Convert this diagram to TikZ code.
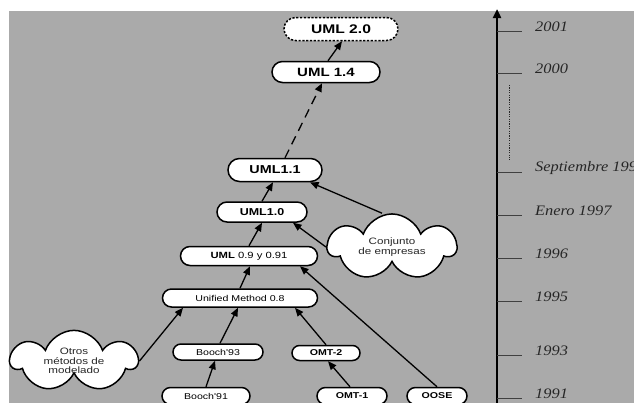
\documentclass[tikz,border=0pt]{standalone}
\usepackage{fontspec}
\setmainfont{Liberation Sans}
\newfontfamily\lbl{Liberation Sans}[FakeStretch=1.25]
\newfontfamily\yearfont{Liberation Serif}[FakeStretch=1.13]
\usetikzlibrary{shapes.misc,shapes.symbols,arrows.meta,calc}
\definecolor{panel}{RGB}{170,170,170}
\pgfdeclarelayer{bg}
\pgfdeclarelayer{edges}
\pgfsetlayers{bg,edges,main}

\begin{document}
\begin{tikzpicture}[x=1pt,y=-1pt,
  stage/.style={rounded rectangle, draw, line width=1.5pt, fill=white,
    inner sep=0pt, text=black},
  bigstage/.style={stage, font=\lbl\bfseries\fontsize{12}{14}\selectfont},
  smallstage/.style={stage, font=\lbl\fontsize{8.5}{10}\selectfont},
  note/.style={cloud, cloud puffs=7, cloud puff arc=140, draw, line width=1.5pt,
    fill=white, inner sep=0pt, align=center, text=black!85,
    font=\lbl\fontsize{9.3}{9.5}\selectfont},
  arr/.style={line width=1.3pt, -{Triangle[length=8.5pt,width=7pt]}},
  tickline/.style={line width=0.9pt, draw=black!75},
  year/.style={anchor=west, inner sep=0pt, text=black!85,
    font=\yearfont\itshape\fontsize{14.5}{16}\selectfont}]

\useasboundingbox (0,0) rectangle (634,402);
\clip (0,0) rectangle (634,402);
\begin{pgfonlayer}{bg}
  \fill[panel] (9,11) rectangle (640,410);
\end{pgfonlayer}

% version nodes
\node[bigstage, minimum width=114pt, minimum height=23pt,
      dash pattern=on 2.2pt off 1.6pt, font=\lbl\bfseries\fontsize{12.5}{14}\selectfont]
      (u20) at (341,29) {UML 2.0};
\node[bigstage, minimum width=108pt, minimum height=21pt] (u14) at (326,72) {UML 1.4};
\node[bigstage, minimum width=94pt, minimum height=23pt,
      font=\lbl\bfseries\fontsize{11.5}{13}\selectfont] (u11) at (275,170) {UML1.1};
\node[bigstage, minimum width=90pt, minimum height=20pt,
      font=\lbl\bfseries\fontsize{10}{12}\selectfont] (u10) at (262,212) {UML1.0};
\node[stage, minimum width=137pt, minimum height=19pt,
      font=\lbl\fontsize{9}{11}\selectfont] (u09) at (249,256) {\textbf{UML} 0.9 y 0.91};
\node[smallstage, minimum width=155pt, minimum height=18pt] (um08) at (240,298) {Unified Method 0.8};
\node[smallstage, minimum width=90pt, minimum height=16pt] (b93) at (218,352) {Booch'93};
\node[smallstage, minimum width=68pt, minimum height=15pt,
      font=\lbl\bfseries\fontsize{8.5}{10}\selectfont] (omt2) at (326,353) {OMT-2};
\node[smallstage, minimum width=88pt, minimum height=17pt] (b91) at (206,396) {Booch'91};
\node[smallstage, minimum width=70pt, minimum height=17pt,
      font=\lbl\bfseries\fontsize{8.5}{10}\selectfont] (omt1) at (352,396) {OMT-1};
\node[smallstage, minimum width=60pt, minimum height=17pt,
      font=\lbl\bfseries\fontsize{8.5}{10}\selectfont] (oose) at (437,396) {OOSE};

% clouds
\node[note, minimum width=126pt, minimum height=58pt, aspect=2.2] (otros) at (74,361)
  {Otros\\métodos de\\modelado};
\node[note, minimum width=128pt, minimum height=55pt, aspect=2.3] (conj) at (392,247)
  {Conjunto\\de empresas};

% connectors
\begin{pgfonlayer}{edges}
  \draw[arr] (otros.east) -- ($(um08.south)+(-57,0)$);
  \draw[arr] ($(b93.north)+(2,0)$) -- ($(um08.south)+(-2,0)$);
  \draw[arr] (omt2.north) -- ($(um08.south)+(55,0)$);
  \draw[arr] (b91.north) -- ($(b93.south)+(-3,0)$);
  \draw[arr] ($(omt1.north)+(-2,0)$) -- ($(omt2.south)+(2,0)$);
  \draw[arr] (oose.north) -- ($(u09.south)+(51,0)$);
  \draw[arr] (um08.north) -- ($(u09.south)+(1,0)$);
  \draw[arr] (u09.north) -- (u10.south);
  \draw[arr] (u10.north) -- ($(u11.south)+(-2,0)$);
  \draw[arr] (conj.west) -- ($(u10.south)+(31,0)$);
  \draw[arr] ($(conj.north)+(-10,0)$) -- ($(u11.south)+(35,0)$);
  \draw[arr, dash pattern=on 9pt off 6pt] ($(u11.north)+(10,0)$) -- ($(u14.south)+(-4,0)$);
  \draw[arr] ($(u14.north)+(2,0)$) -- ($(u20.south)+(1,0)$);
\end{pgfonlayer}

% time axis
\coordinate (axisbot) at (497,410);
\coordinate (axistop) at (497,9);
\draw[line width=2.6pt, -{Triangle[length=9pt,width=8pt]}] (axisbot) -- (axistop);
\draw[line width=1pt, dash pattern=on 1.2pt off 1.2pt, black!85] (509,85) -- (509,160);

\foreach \ty/\txt in {31/2001, 73/2000, 172/Septiembre 1997, 215/Enero 1997,
                      258/1996, 301/1995, 355/1993, 398/1991} {
  \draw[tickline] (497,\ty) -- (522,\ty);
  \node[year] at (535,\ty-4) {\txt};
}
\end{tikzpicture}
\end{document}
